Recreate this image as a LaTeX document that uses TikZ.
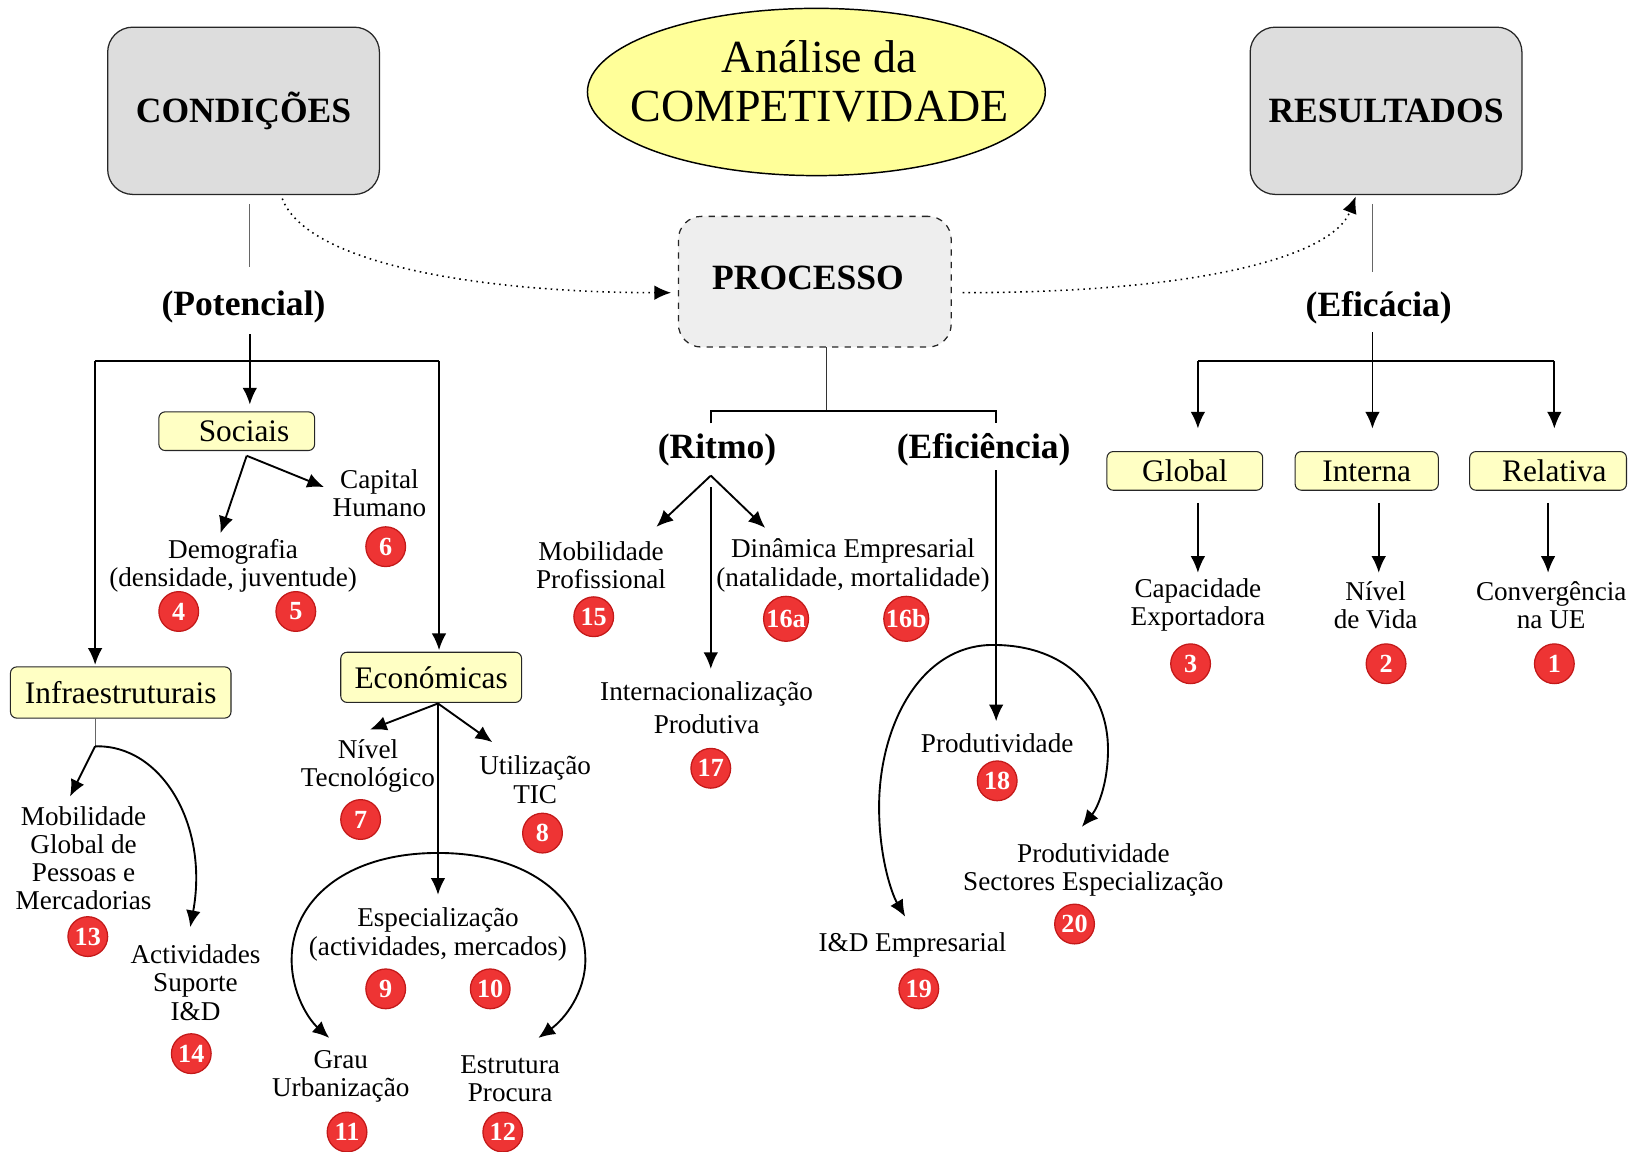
\documentclass[tikz,border=0pt]{standalone}
\usepackage{fontspec}
\setmainfont{Liberation Serif}
\usetikzlibrary{arrows.meta,shapes.geometric}
\definecolor{boxgray}{RGB}{221,221,221}
\definecolor{procgray}{RGB}{238,238,238}
\definecolor{titleyellow}{RGB}{255,255,153}
\definecolor{lblyellow}{RGB}{255,255,196}
\definecolor{badgered}{RGB}{238,52,52}
\definecolor{badgeedge}{RGB}{195,25,25}
\begin{document}
\begin{tikzpicture}[x=0.5pt,y=-0.5pt,
  bigbox/.style={draw=black!85, line width=0.6pt, fill=boxgray, rounded corners=12pt, minimum width=130pt, minimum height=80pt, inner sep=0pt, font=\fontsize{17}{20}\selectfont\bfseries},
  procbox/.style={draw=black!85, line width=0.6pt, dashed, fill=procgray, rounded corners=11pt, minimum width=130.5pt, minimum height=62.5pt, inner sep=0pt},
  lbl/.style={draw=black!85, line width=0.5pt, fill=lblyellow, rounded corners=3pt, inner sep=0pt, font=\fontsize{15}{17}\selectfont},
  txt/.style={align=center, inner sep=0pt, font=\fontsize{13}{13.5}\selectfont},
  head/.style={inner sep=0pt, font=\fontsize{17}{20}\selectfont\bfseries},
  badge/.style={circle, fill=badgered, draw=badgeedge, line width=0.6pt, minimum size=19pt, inner sep=0pt, text=white, font=\fontsize{12.5}{12.5}\selectfont\bfseries},
  widebadge/.style={badge, minimum size=21.5pt},
  arr/.style={-{Latex[length=8pt,width=7pt]}, line width=0.9pt},
  plain/.style={line width=0.9pt},
  thinline/.style={draw=black!60, line width=0.5pt},
  dotarr/.style={dotted, line width=0.75pt, -{Latex[length=8pt,width=7pt]}}
]
\useasboundingbox (0,0) rectangle (1568,1102);

% ---------- top-level shapes ----------
\node[bigbox] (cond) at (233,106) {CONDIÇÕES};
\node[bigbox] (res) at (1326,106) {RESULTADOS};
\node[ellipse, draw=black, line width=0.7pt, fill=titleyellow, minimum width=219pt, minimum height=80pt, inner sep=0pt] (title) at (781,88) {};
\node[align=center, inner sep=0pt, font=\fontsize{22}{23.5}\selectfont] (titletext) at (784,78) {Análise da\\COMPETIVIDADE};
\node[procbox] (proc) at (779.5,269.5) {};
\node[inner sep=0pt, font=\fontsize{17}{20}\selectfont\bfseries] (proctext) at (773,266) {PROCESSO};

% ---------- headings ----------
\node[head] (pot) at (233,294) {(Potencial)};
\node[head] (efic) at (1319,294) {(Eficácia)};
\node[head] (ritmo) at (686,430) {(Ritmo)};
\node[head] (eficien) at (941,430) {(Eficiência)};

% ---------- label boxes ----------
\node[lbl, minimum width=74.5pt, minimum height=18.5pt] (soc) at (226.5,412.5) {\hspace*{7pt}Sociais};
\node[lbl, minimum width=105.5pt, minimum height=24.5pt] (infra) at (115.5,662.5) {Infraestruturais};
\node[lbl, minimum width=86.5pt, minimum height=24pt] (econ) at (412.5,648) {Económicas};
\node[lbl, minimum width=74.5pt, minimum height=18.5pt] (glob) at (1133.5,450.5) {Global};
\node[lbl, minimum width=68.5pt, minimum height=18.5pt] (inter) at (1307.5,450.5) {Interna};
\node[lbl, minimum width=75pt, minimum height=18.5pt] (rel) at (1481,450.5) {\hspace*{6pt}Relativa};

% ---------- texts ----------
\node[txt] (demo) at (223,541) {Demografia\\(densidade, juventude)};
\node[txt] (capit) at (363,472) {Capital\\Humano};
\node[txt] (mobg) at (80,821) {Mobilidade\\Global de\\Pessoas e\\Mercadorias};
\node[txt] (activ) at (187,940) {Actividades\\Suporte\\I\&D};
\node[txt] (nivt) at (352,733) {Nível\\Tecnológico};
\node[txt] (utic) at (512,746) {Utilização\\TIC};
\node[txt] (espec) at (419,894) {Especialização\\(actividades, mercados)};
\node[txt] (grau) at (326,1030) {Grau\\Urbanização};
\node[txt] (estr) at (488,1032) {Estrutura\\Procura};
\node[txt] (mobp) at (575,541) {Mobilidade\\Profissional};
\node[txt] (dinam) at (816,541) {Dinâmica Empresarial\\(natalidade, mortalidade)};
\node[txt, font=\fontsize{13}{15.5}\selectfont] (intern) at (676,677) {Internacionalização\\Produtiva};
\node[txt] (prod) at (954,711) {Produtividade};
\node[txt] (prods) at (1046,832) {Produtividade\\Sectores Especialização};
\node[txt] (ide) at (873,904) {I\&D Empresarial};
\node[txt] (capex) at (1146,579) {Capacidade\\Exportadora};
\node[txt] (nivv) at (1316,579) {Nível\\de Vida};
\node[txt] (conv) at (1484,579) {Convergência\\na UE};

% ---------- badges ----------
\node[badge] (b4) at (171,585) {4};
\node[badge] (b5) at (283,585) {5};
\node[badge] (b6) at (369,523) {6};
\node[badge] (b7) at (345,784) {7};
\node[badge] (b8) at (519,797) {8};
\node[badge] (b9) at (369,946) {9};
\node[badge] (b10) at (469,946) {10};
\node[badge] (b11) at (332,1083) {11};
\node[badge] (b12) at (481,1083) {12};
\node[badge] (b13) at (84,896) {13};
\node[badge] (b14) at (183,1008) {14};
\node[badge] (b15) at (568,590) {15};
\node[widebadge] (b16a) at (752,592) {16a};
\node[widebadge] (b16b) at (867,592) {16b};
\node[badge] (b17) at (680,735) {17};
\node[badge] (b18) at (954,747) {18};
\node[badge] (b19) at (879,946) {19};
\node[badge] (b20) at (1028,884) {20};
\node[badge] (b3) at (1139,635) {3};
\node[badge] (b2) at (1326,635) {2};
\node[badge] (b1) at (1487,635) {1};

% ---------- coordinates ----------
\coordinate (cT) at (239,195); \coordinate (cB) at (239,255);
\coordinate (pT) at (239,320); \coordinate (pS) at (239,387);
\coordinate (hL) at (91,345); \coordinate (hR) at (420,345);
\coordinate (infT) at (91,636); \coordinate (ecoT) at (420,622);
\coordinate (sO) at (236,436); \coordinate (sL) at (211,510); \coordinate (sR) at (310,466);
\coordinate (iO) at (91,687); \coordinate (iJ) at (91,714);
\coordinate (iL) at (67,762); \coordinate (iR) at (182,887);
\coordinate (eO) at (419,673); \coordinate (eL) at (354,698); \coordinate (eR) at (471,710); \coordinate (eD) at (419,856);
\coordinate (aTop) at (419,816); \coordinate (aL) at (315,993); \coordinate (aR) at (515,993);
\coordinate (dS) at (270,190); \coordinate (dE) at (642,280);
\coordinate (dS2) at (921,280); \coordinate (dE2) at (1297,188);
\coordinate (prB) at (791,332); \coordinate (prJ) at (791,393);
\coordinate (rJ) at (680,393); \coordinate (rT) at (680,405);
\coordinate (fJ) at (953,393); \coordinate (fT) at (953,405);
\coordinate (rO) at (680,455); \coordinate (rL) at (628,504); \coordinate (rR) at (732,505);
\coordinate (rV) at (680,466); \coordinate (rD) at (680,640);
\coordinate (fO) at (953,450); \coordinate (fD) at (953,690);
\coordinate (fTop) at (950,617); \coordinate (fL) at (866,877); \coordinate (fR) at (1035,791);
\coordinate (rsT) at (1313,195); \coordinate (rsB) at (1313,260);
\coordinate (efT) at (1313,318); \coordinate (efD) at (1313,410);
\coordinate (ehL) at (1146,345); \coordinate (ehR) at (1487,345);
\coordinate (gD) at (1146,410); \coordinate (relD) at (1487,410);
\coordinate (gB) at (1146,481); \coordinate (gE) at (1146,548);
\coordinate (nB) at (1319,481); \coordinate (nE) at (1319,548);
\coordinate (cvB) at (1481,481); \coordinate (cvE) at (1481,548);

% ---------- connectors: CONDIÇÕES ----------
\draw[thinline] (cT) -- (cB);
\draw[arr] (pT) -- (pS);
\draw[plain] (hL) -- (hR);
\draw[arr] (hL) -- (infT);
\draw[arr] (hR) -- (ecoT);
\draw[arr] (sO) -- (sL);
\draw[arr] (sO) -- (sR);
\draw[thinline] (iO) -- (iJ);
\draw[arr] (iJ) -- (iL);
\draw[arr] (iJ) .. controls (155,712) and (200,790) .. (iR);
\draw[arr] (eO) -- (eL);
\draw[arr] (eO) -- (eR);
\draw[arr] (eO) -- (eD);
\draw[arr] (aTop) .. controls (330,816) and (279,862) .. (279,918) .. controls (279,950) and (295,975) .. (aL);
\draw[arr] (aTop) .. controls (508,816) and (560,862) .. (560,918) .. controls (560,950) and (540,975) .. (aR);

% ---------- dotted process links ----------
\draw[dotarr] (dS) .. controls (295,255) and (470,280) .. (dE);
\draw[dotarr] (dS2) .. controls (1150,280) and (1275,245) .. (dE2);

% ---------- connectors: PROCESSO ----------
\draw[thinline, draw=black!80] (prB) -- (prJ);
\draw[plain] (rT) -- (rJ) -- (fJ) -- (fT);
\draw[arr] (rO) -- (rL);
\draw[arr] (rO) -- (rR);
\draw[arr] (rV) -- (rD);
\draw[arr] (fO) -- (fD);
\draw[arr] (fTop) .. controls (880,617) and (841,695) .. (841,772) .. controls (841,820) and (853,855) .. (fL);
\draw[arr] (fTop) .. controls (1022,617) and (1060,662) .. (1060,717) .. controls (1060,750) and (1050,773) .. (fR);

% ---------- connectors: RESULTADOS ----------
\draw[thinline] (rsT) -- (rsB);
\draw[arr] (efT) -- (efD);
\draw[plain] (ehL) -- (ehR);
\draw[arr] (ehL) -- (gD);
\draw[arr] (ehR) -- (relD);
\draw[arr] (gB) -- (gE);
\draw[arr] (nB) -- (nE);
\draw[arr] (cvB) -- (cvE);
\end{tikzpicture}
\end{document}
